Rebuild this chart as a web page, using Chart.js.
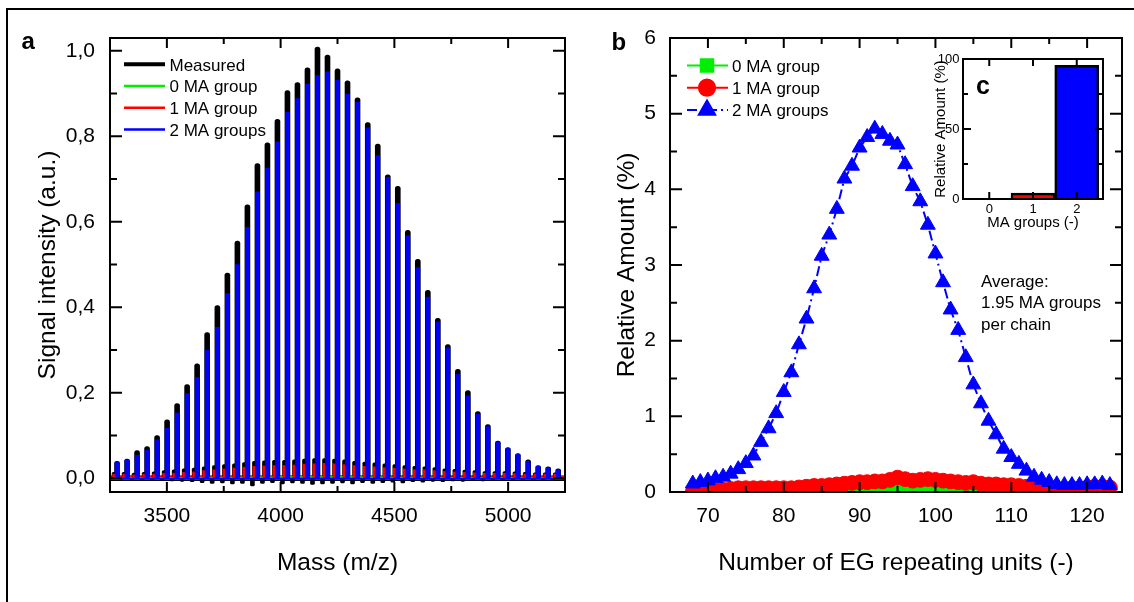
<!DOCTYPE html>
<html>
<head>
<meta charset="utf-8">
<title>MALDI spectrum and MA group distribution</title>
<script src="https://cdn.jsdelivr.net/npm/chart.js@4.4.1/dist/chart.umd.min.js"></script>
<style>
  html, body { margin: 0; padding: 0; background: #fff; overflow: hidden; }
  #fig { position: relative; width: 1134px; height: 602px; overflow: hidden; background: #fff; }
  #frame { position: absolute; left: 6px; top: 8px; width: 1200px; height: 700px;
           border-left: 2px solid #000; border-top: 2px solid #000; }
  canvas { position: absolute; }
  #ca { left: 0; top: 0; }
  #cb { left: 570px; top: 0; }
  #cc { left: 900px; top: 40px; }
</style>
</head>
<body>
<div id="fig">
  <div id="frame"></div>
  <canvas id="ca" width="570" height="602" style="width:570px;height:602px"></canvas>
  <canvas id="cb" width="564" height="602" style="width:564px;height:602px"></canvas>
  <canvas id="cc" width="220" height="200" style="width:220px;height:200px"></canvas>
</div>
<script>
// ---------- Panel a: mass spectrum ----------
const massA = [3281,3325,3369,3413,3457,3501,3545,3589,3633,3677,3722,3766,3810,3854,3898,
  3942,3986,4030,4074,4118,4162,4206,4250,4294,4338,4383,4427,4471,4515,4559,4603,4647,
  4691,4735,4779,4823,4867,4911,4955,4999,5043,5088,5132,5176,5220];
const measuredA = [0.040,0.045,0.065,0.074,0.100,0.137,0.175,0.219,0.268,0.341,0.404,0.480,
  0.555,0.640,0.736,0.785,0.840,0.907,0.926,0.960,1.009,0.990,0.958,0.930,0.890,0.832,0.782,
  0.710,0.683,0.580,0.512,0.440,0.374,0.313,0.255,0.205,0.156,0.126,0.087,0.072,0.058,0.043,
  0.030,0.027,0.022];
const ma2A = [0.038,0.043,0.054,0.066,0.090,0.117,0.153,0.198,0.236,0.300,0.353,0.432,0.500,
  0.587,0.670,0.726,0.787,0.857,0.888,0.922,0.942,0.951,0.931,0.899,0.880,0.820,0.755,0.704,
  0.643,0.567,0.493,0.424,0.366,0.305,0.243,0.193,0.150,0.121,0.085,0.070,0.056,0.040,0.028,
  0.025,0.020];
const ma0A = [0.001,0.001,0.001,0.001,0.001,0.001,0.002,0.001,0.002,0.002,0.002,0.002,0.002,
  0.002,0.003,0.002,0.003,0.003,0.003,0.003,0.003,0.003,0.003,0.003,0.003,0.002,0.003,0.002,
  0.002,0.002,0.002,0.002,0.002,0.001,0.002,0.001,0.001,0.001,0.001,0.001,0.001,0.001,0.001,
  0.001,0.001];
const ma1MassA = [3268,3312,3356,3400,3444,3488,3532,3576,3620,3664,3709,3753,3797,3841,3885,
  3929,3973,4017,4061,4105,4149,4193,4237,4281,4325,4370,4414,4458,4502,4546,4590,4634,4678,
  4722,4766,4810,4854,4898,4942,4986,5030,5075,5119,5163,5207];
const ma1A = [0.010,0.010,0.008,0.010,0.010,0.012,0.012,0.014,0.015,0.018,0.020,0.022,0.024,
  0.026,0.028,0.029,0.030,0.030,0.031,0.033,0.034,0.035,0.034,0.032,0.030,0.028,0.027,0.025,
  0.024,0.022,0.020,0.020,0.018,0.016,0.015,0.014,0.013,0.012,0.012,0.012,0.011,0.010,0.010,
  0.010,0.010];
const measuredSideA = [0.014,0.014,0.012,0.014,0.015,0.018,0.020,0.022,0.024,0.027,0.030,0.032,
  0.034,0.037,0.040,0.041,0.042,0.042,0.043,0.045,0.046,0.046,0.045,0.043,0.040,0.038,0.036,
  0.034,0.032,0.030,0.028,0.027,0.025,0.022,0.021,0.019,0.018,0.016,0.016,0.016,0.015,0.014,
  0.013,0.013,0.013];
const dipMassA = [3303,3347,3391,3435,3479,3523,3567,3611,3655,3699,3744,3788,3832,3876,3920,
  3964,4008,4052,4096,4140,4184,4228,4272,4316,4360,4405,4449,4493,4537,4581,4625,4669,4713,
  4757,4801,4845,4889,4933,4977,5021,5065,5110,5154,5198,5242];
const dipA = [-0.002,-0.003,-0.004,-0.004,-0.005,-0.006,-0.007,-0.008,-0.010,-0.012,-0.011,
  -0.013,-0.012,-0.018,-0.012,-0.010,-0.013,-0.011,-0.012,-0.014,-0.013,-0.012,-0.011,-0.013,
  -0.010,-0.012,-0.010,-0.009,-0.011,-0.008,-0.009,-0.007,-0.008,-0.006,-0.007,-0.005,-0.006,
  -0.005,-0.004,-0.004,-0.003,-0.004,-0.003,-0.003,-0.002];
const seriesA = ['Measured', '0 MA group', '1 MA group', '2 MA groups'];
const xTicksA = [3500, 4000, 4500, 5000];
const xLabelsA = ['3500', '4000', '4500', '5000'];
const xMinorA = [3750, 4250, 4750];
const yTicksA = [0, 0.2, 0.4, 0.6, 0.8, 1.0];
const yLabelsA = ['0,0', '0,2', '0,4', '0,6', '0,8', '1,0'];
const yMinorA = [0.1, 0.3, 0.5, 0.7, 0.9];

// ---------- Panel b: distribution over chain length ----------
const egUnits = [68,69,70,71,72,73,74,75,76,77,78,79,80,81,82,83,84,85,86,87,88,89,90,91,92,93,
  94,95,96,97,98,99,100,101,102,103,104,105,106,107,108,109,110,111,112,113,114,115,116,117,
  118,119,120,121,122,123];
const ma2B = [0.11,0.13,0.15,0.18,0.20,0.24,0.30,0.38,0.48,0.66,0.84,1.04,1.32,1.58,1.95,2.29,
  2.69,3.12,3.40,3.74,4.14,4.31,4.55,4.69,4.80,4.73,4.64,4.59,4.33,4.04,3.84,3.53,3.15,2.77,
  2.41,2.14,1.78,1.42,1.17,0.94,0.76,0.57,0.46,0.37,0.28,0.20,0.16,0.13,0.10,0.09,0.09,0.09,
  0.10,0.10,0.11,0.09];
const ma1B = [0.00,0.01,0.02,0.02,0.03,0.04,0.05,0.05,0.05,0.05,0.05,0.05,0.05,0.05,0.06,0.07,
  0.08,0.08,0.09,0.10,0.11,0.12,0.13,0.13,0.14,0.14,0.16,0.19,0.17,0.15,0.16,0.17,0.16,0.15,
  0.14,0.13,0.12,0.13,0.11,0.10,0.10,0.09,0.09,0.08,0.07,0.06,0.05,0.04,0.04,0.04,0.05,0.05,
  0.06,0.07,0.07,0.06];
const ma0B = [0.00,0.00,0.00,0.00,0.00,0.00,0.00,0.00,0.00,0.00,0.00,0.00,0.00,0.00,0.00,0.00,
  0.00,0.005,0.01,0.01,0.015,0.02,0.02,0.02,0.025,0.03,0.03,0.04,0.03,0.03,0.03,0.035,0.03,
  0.025,0.02,0.02,0.015,0.01,0.01,0.005,0.00,0.00,0.00,0.00,0.00,0.00,0.00,0.00,0.00,0.00,
  0.00,0.00,0.00,0.00,0.00,0.00];
const seriesB = ['0 MA group', '1 MA group', '2 MA groups'];
const xTicksB = [70, 80, 90, 100, 110, 120];
const xLabelsB = ['70', '80', '90', '100', '110', '120'];
const xMinorB = [75, 85, 95, 105, 115];
const yTicksB = [0, 1, 2, 3, 4, 5, 6];
const yLabelsB = ['0', '1', '2', '3', '4', '5', '6'];
const yMinorB = [0.5, 1.5, 2.5, 3.5, 4.5, 5.5];
const averageNote = ['Average:', '1.95 MA groups', 'per chain'];

// ---------- Inset c: overall share per number of MA groups ----------
const maGroups = [0, 1, 2];
const maShare = [0.4, 4.2, 95.4];
const xTicksC = [0, 1, 2];
const xLabelsC = ['0', '1', '2'];
const yTicksC = [0, 50, 100];
const yLabelsC = ['0', '50', '100'];
const yMinorC = [25, 75];

// ---------- styling ----------
const FONT = "'Liberation Sans', Arial, Helvetica, sans-serif";
const BLACK = '#000000', GREEN = '#00ee00', RED = '#ff0000', BLUE = '#0000ff';
Chart.defaults.font.family = FONT;
Chart.defaults.color = BLACK;
Chart.defaults.animation = false;
Chart.defaults.plugins.legend.display = false;
Chart.defaults.plugins.tooltip.enabled = false;

function linearAxis(o) {
  return {
    type: 'linear', min: o.min, max: o.max, offset: false,
    grid: { display: false, drawTicks: false },
    border: { display: false },
    afterBuildTicks: s => { s.ticks = o.ticks.map(v => ({ value: v })); },
    ticks: { autoSkip: false, maxRotation: 0, padding: o.pad, font: { size: o.fs },
             callback: (v, i) => o.labels[i] },
    title: { display: true, text: o.title, font: { size: o.tfs }, padding: o.tpad },
    afterFit: s => {
      if (o.width !== undefined) s.width = o.width;
      if (o.height !== undefined) s.height = o.height;
    }
  };
}

// Box frame with inward major/minor ticks on all four sides
const axisFrame = {
  id: 'axisFrame',
  afterDatasetsDraw(chart, args, opts) {
    const { ctx, chartArea: a, scales: { x, y } } = chart;
    ctx.save();
    ctx.strokeStyle = BLACK;
    ctx.lineWidth = opts.lw;
    ctx.beginPath();
    const inside = (p, lo, hi) => p > lo + 1 && p < hi - 1;
    const xt = [[x.ticks.map(t => t.value), opts.xMajor], [opts.xMinorVals, opts.xMinor]];
    for (const [vals, len] of xt) {
      for (const v of vals) {
        const p = x.getPixelForValue(v);
        if (!inside(p, a.left, a.right)) continue;
        ctx.moveTo(p, a.bottom); ctx.lineTo(p, a.bottom - len);
        ctx.moveTo(p, a.top); ctx.lineTo(p, a.top + len);
      }
    }
    const yt = [[y.ticks.map(t => t.value), opts.yMajor], [opts.yMinorVals, opts.yMinor]];
    for (const [vals, len] of yt) {
      for (const v of vals) {
        const p = y.getPixelForValue(v);
        if (!inside(p, a.top, a.bottom)) continue;
        ctx.moveTo(a.left, p); ctx.lineTo(a.left + len, p);
        ctx.moveTo(a.right, p); ctx.lineTo(a.right - len, p);
      }
    }
    ctx.stroke();
    ctx.strokeRect(a.left, a.top, a.right - a.left, a.bottom - a.top);
    ctx.restore();
  }
};

function panelLetter(ctx, letter, x, y, size) {
  ctx.save();
  ctx.font = 'bold ' + size + 'px ' + FONT;
  ctx.fillStyle = BLACK;
  ctx.textAlign = 'left';
  ctx.textBaseline = 'alphabetic';
  ctx.fillText(letter, x, y);
  ctx.restore();
}

// ---------- Panel a chart ----------
const spectrumDecor = {
  id: 'spectrumDecor',
  beforeDatasetsDraw(chart) {
    const { ctx, chartArea: a, scales: { y } } = chart;
    const y0 = y.getPixelForValue(0);
    ctx.save();
    ctx.beginPath(); ctx.rect(a.left, a.top, a.right - a.left, a.bottom - a.top); ctx.clip();
    ctx.lineWidth = 1.5; ctx.strokeStyle = BLACK;
    ctx.beginPath(); ctx.moveTo(a.left, y0 + 2); ctx.lineTo(a.right, y0 + 2); ctx.stroke();
    ctx.lineWidth = 3; ctx.strokeStyle = RED;
    ctx.beginPath(); ctx.moveTo(a.left, y0 - 1.5); ctx.lineTo(a.right, y0 - 1.5); ctx.stroke();
    ctx.restore();
  },
  afterDatasetsDraw(chart) {
    const { ctx, chartArea: a, scales: { y } } = chart;
    const y0 = y.getPixelForValue(0);
    ctx.save();
    ctx.beginPath(); ctx.rect(a.left, a.top, a.right - a.left, a.bottom - a.top); ctx.clip();
    ctx.lineWidth = 2; ctx.strokeStyle = BLUE;
    ctx.beginPath(); ctx.moveTo(a.left, y0 + 0.5); ctx.lineTo(a.right, y0 + 0.5); ctx.stroke();
    ctx.restore();
  },
  afterDraw(chart) {
    const { ctx } = chart;
    const colors = [BLACK, GREEN, RED, BLUE];
    const widths = [4, 2.5, 2.5, 2.5];
    ctx.save();
    ctx.font = '17px ' + FONT;
    ctx.textBaseline = 'alphabetic';
    ctx.fillStyle = BLACK;
    seriesA.forEach((name, i) => {
      const base = 70.5 + i * 21.8;
      const ly = base - 6.3;
      ctx.strokeStyle = colors[i];
      ctx.lineWidth = widths[i];
      ctx.beginPath(); ctx.moveTo(124, ly); ctx.lineTo(165, ly); ctx.stroke();
      ctx.fillText(name, 169.5, base);
    });
    ctx.restore();
    panelLetter(ctx, 'a', 21.5, 49, 24);
  }
};

const pts = (xs, ys) => xs.map((v, i) => ({ x: v, y: ys[i] }));

new Chart(document.getElementById('ca'), {
  type: 'bar',
  data: {
    datasets: [
      { label: seriesA[3], data: pts(massA, ma2A), backgroundColor: BLUE,
        barThickness: 4, grouped: false, order: 0 },
      { label: seriesA[2], data: pts(ma1MassA, ma1A), backgroundColor: RED,
        barThickness: 3, grouped: false, order: 1 },
      { type: 'line', label: seriesA[1], data: pts(massA, ma0A), borderColor: GREEN,
        borderWidth: 1.5, pointRadius: 0, order: 2 },
      { label: seriesA[0], data: pts(massA, measuredA), backgroundColor: BLACK,
        barThickness: 5, borderRadius: 2.5, grouped: false, order: 3 },
      { label: seriesA[0], data: pts(ma1MassA, measuredSideA), backgroundColor: BLACK,
        barThickness: 4, borderRadius: 1.5, grouped: false, order: 3 },
      { label: seriesA[0], data: pts(dipMassA, dipA), backgroundColor: BLACK,
        barThickness: 4, borderRadius: 1.5, grouped: false, order: 3 }
    ]
  },
  options: {
    responsive: false,
    maintainAspectRatio: false,
    layout: { padding: { left: 0, right: 5, top: 38, bottom: 0 } },
    scales: {
      x: linearAxis({ min: 3250, max: 5250, ticks: xTicksA, labels: xLabelsA, pad: 12, fs: 21,
        title: 'Mass (m/z)', tfs: 24.5, tpad: { top: 0, bottom: 24 }, height: 110 }),
      y: linearAxis({ min: -0.032, max: 1.03, ticks: yTicksA, labels: yLabelsA, pad: 15, fs: 21,
        title: 'Signal intensity (a.u.)', tfs: 24.5, tpad: { top: 34, bottom: 0 }, width: 110 })
    },
    plugins: {
      axisFrame: { lw: 2, xMajor: 10, xMinor: 6, yMajor: 12, yMinor: 7,
                   xMinorVals: xMinorA, yMinorVals: yMinorA }
    }
  },
  plugins: [spectrumDecor, axisFrame]
});

// ---------- Panel b chart ----------
const distDecor = {
  id: 'distDecor',
  afterDraw(chart) {
    const { ctx } = chart;
    const ds = chart.data.datasets;
    const helpers = Chart.helpers;
    ctx.save();
    ctx.font = '17px ' + FONT;
    ctx.textBaseline = 'alphabetic';
    // legend: line sample with marker, then the series name
    [0, 1, 2].forEach(i => {
      const d = ds.find(s => s.label === seriesB[i]);
      const base = 71.8 + i * 22.2;
      const ly = base - 6.3;
      ctx.strokeStyle = d.borderColor;
      ctx.lineWidth = 2;
      ctx.setLineDash(d.borderDash || []);
      ctx.beginPath(); ctx.moveTo(117, ly); ctx.lineTo(158, ly); ctx.stroke();
      ctx.setLineDash([]);
      ctx.fillStyle = d.pointBackgroundColor;
      ctx.strokeStyle = d.pointBackgroundColor;
      helpers.drawPoint(ctx, { pointStyle: d.pointStyle, radius: d.pointRadius * 1.1,
                               rotation: 0, borderWidth: 1 }, 137, ly);
      ctx.fillStyle = BLACK;
      ctx.fillText(d.label, 162, base);
    });
    averageNote.forEach((line, i) => ctx.fillText(line, 411, 286.5 + i * 21.7));
    ctx.restore();
    panelLetter(ctx, 'b', 41.5, 50, 24);
  }
};

new Chart(document.getElementById('cb'), {
  type: 'line',
  data: {
    datasets: [
      { label: seriesB[2], data: pts(egUnits, ma2B), borderColor: BLUE, borderWidth: 2,
        borderDash: [10, 4, 2, 4], pointStyle: 'triangle', pointRadius: 8.6,
        pointBackgroundColor: BLUE, pointBorderColor: BLUE, pointBorderWidth: 1, order: 0 },
      { label: seriesB[1], data: pts(egUnits, ma1B), borderColor: RED, borderWidth: 2,
        pointStyle: 'circle', pointRadius: 7.4, pointBackgroundColor: RED,
        pointBorderColor: RED, pointBorderWidth: 1, order: 1 },
      { label: seriesB[0], data: pts(egUnits, ma0B), borderColor: GREEN, borderWidth: 2,
        pointStyle: 'rect', pointRadius: 8, pointBackgroundColor: GREEN,
        pointBorderColor: GREEN, pointBorderWidth: 1, order: 2 }
    ]
  },
  options: {
    responsive: false,
    maintainAspectRatio: false,
    layout: { padding: { left: 0, right: 12, top: 38, bottom: 0 } },
    scales: {
      x: linearAxis({ min: 65, max: 124.6, ticks: xTicksB, labels: xLabelsB, pad: 12, fs: 21,
        title: 'Number of EG repeating units (-)', tfs: 24.5, tpad: { top: 0, bottom: 24 },
        height: 110 }),
      y: linearAxis({ min: 0, max: 6, ticks: yTicksB, labels: yLabelsB, pad: 14, fs: 21,
        title: 'Relative Amount (%)', tfs: 24.5, tpad: { top: 43, bottom: 0 }, width: 100 })
    },
    plugins: {
      axisFrame: { lw: 2, xMajor: 10, xMinor: 6, yMajor: 12, yMinor: 7,
                   xMinorVals: xMinorB, yMinorVals: yMinorB }
    }
  },
  plugins: [distDecor, axisFrame]
});

// ---------- Inset c chart ----------
const insetDecor = {
  id: 'insetDecor',
  beforeDatasetsDraw(chart) {
    const { ctx, chartArea: a } = chart;
    ctx.save();
    ctx.fillStyle = '#ffffff';
    ctx.fillRect(a.left, a.top, a.right - a.left, a.bottom - a.top);
    ctx.restore();
  },
  afterDraw(chart) {
    panelLetter(chart.ctx, 'c', 76, 53.5, 25);
  }
};

new Chart(document.getElementById('cc'), {
  type: 'bar',
  data: {
    datasets: [{
      label: 'MA groups',
      data: pts(maGroups, maShare),
      backgroundColor: [GREEN, RED, BLUE],
      borderColor: ['#138a13', BLACK, BLACK],
      borderWidth: [1, 2.5, 2.5],
      barThickness: 44,
      grouped: false
    }]
  },
  options: {
    responsive: false,
    maintainAspectRatio: false,
    layout: { padding: { left: 0, right: 17, top: 19, bottom: 0 } },
    scales: {
      x: linearAxis({ min: -0.6, max: 2.6, ticks: xTicksC, labels: xLabelsC, pad: 2.5, fs: 13,
        title: 'MA groups (-)', tfs: 15, tpad: { top: 0, bottom: 8.5 }, height: 41 }),
      y: linearAxis({ min: 0, max: 100, ticks: yTicksC, labels: yLabelsC, pad: 3.5, fs: 13,
        title: 'Relative Amount (%)', tfs: 15, tpad: { top: 32, bottom: 0 }, width: 63 })
    },
    plugins: {
      axisFrame: { lw: 2, xMajor: 7, xMinor: 4, yMajor: 8, yMinor: 5,
                   xMinorVals: [], yMinorVals: yMinorC }
    }
  },
  plugins: [insetDecor, axisFrame]
});
</script>
</body>
</html>
